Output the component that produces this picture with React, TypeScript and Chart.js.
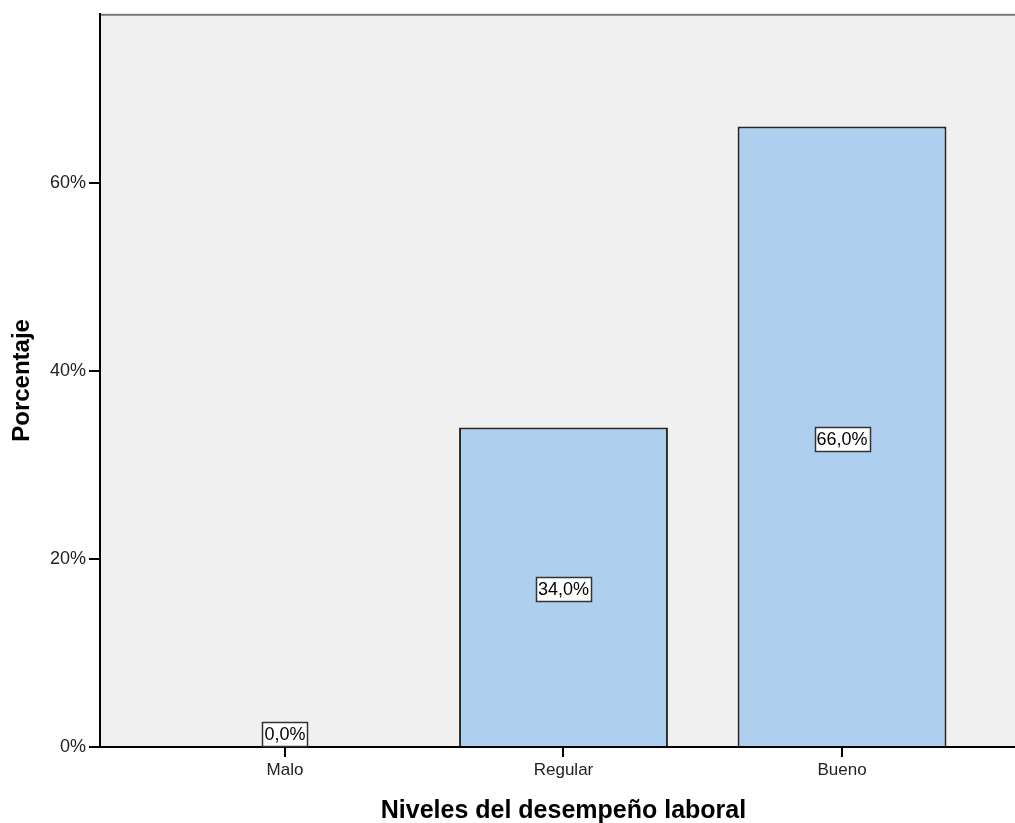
import { useEffect, useRef } from 'react';
import { Chart, registerables } from 'chart.js';

Chart.register(...registerables);

// Data
const categories = ['Malo', 'Regular', 'Bueno'];
const percentages = [0, 34, 66];
const yTickValues = [0, 20, 40, 60];
const xAxisTitle = 'Niveles del desempeño laboral';
const yAxisTitle = 'Porcentaje';

const FONT = "'Liberation Sans', Arial, Helvetica, sans-serif";
const formatPct = (v: number) => v.toFixed(1).replace('.', ',') + '%';

export default function App() {
  const canvasRef = useRef<HTMLCanvasElement>(null);

  useEffect(() => {
    const canvas = canvasRef.current;
    if (!canvas) return;

    // Grey plot panel with a thin top rule
    const panel = {
      id: 'panel',
      beforeDraw(chart: any) {
        const { ctx, chartArea: a } = chart;
        ctx.save();
        ctx.fillStyle = '#f0f0f0';
        ctx.fillRect(a.left, a.top, a.right - a.left, a.bottom - a.top);
        ctx.fillStyle = '#7a7a7a';
        ctx.fillRect(a.left, a.top, a.right - a.left, 2);
        ctx.restore();
      },
    };

    // Boxed value labels in the middle of each bar
    const valueLabels = {
      id: 'valueLabels',
      afterDatasetsDraw(chart: any) {
        const { ctx } = chart;
        const yScale = chart.scales.y;
        const meta = chart.getDatasetMeta(0);
        const axisY = yScale.getPixelForValue(0);
        ctx.save();
        ctx.font = `18px ${FONT}`;
        meta.data.forEach((bar: any, i: number) => {
          const v = percentages[i];
          const text = formatPct(v);
          const tw = ctx.measureText(text).width;
          const w = Math.round(tw + 4);
          const h = 24;
          let cy = yScale.getPixelForValue(v / 2) + 2;
          cy = Math.min(cy, axisY - 1 - h / 2);
          const x0 = Math.round(bar.x - w / 2) + 0.5;
          const y0 = Math.round(cy - h / 2) + 0.5;
          ctx.fillStyle = '#ffffff';
          ctx.fillRect(x0, y0, w, h);
          ctx.strokeStyle = '#333333';
          ctx.lineWidth = 1.5;
          ctx.strokeRect(x0, y0, w, h);
          ctx.fillStyle = '#000000';
          ctx.textAlign = 'center';
          ctx.textBaseline = 'middle';
          ctx.fillText(text, bar.x, y0 + h / 2 + 1);
        });
        ctx.restore();
      },
    };

    // Axis titles
    const axisTitles = {
      id: 'axisTitles',
      afterDraw(chart: any) {
        const { ctx, chartArea: a } = chart;
        const xScale = chart.scales.x;
        ctx.save();
        ctx.fillStyle = '#000000';
        ctx.textAlign = 'center';
        ctx.textBaseline = 'alphabetic';
        ctx.font = `bold 25px ${FONT}`;
        ctx.fillText(xAxisTitle, xScale.getPixelForValue(1), 818);
        ctx.font = `bold 24px ${FONT}`;
        ctx.translate(28.5, (a.top + a.bottom) / 2);
        ctx.rotate(-Math.PI / 2);
        ctx.fillText(yAxisTitle, 0, 0);
        ctx.restore();
      },
    };

    const chart = new Chart(canvas, {
      type: 'bar',
      data: {
        datasets: [
          {
            data: percentages.map((v, i) => ({ x: i, y: v })),
            backgroundColor: '#aed0ee',
            borderColor: '#262626',
            borderWidth: 2,
            categoryPercentage: 1,
            barPercentage: 0.75,
          },
        ],
      },
      options: {
        responsive: false,
        animation: false,
        layout: { padding: { top: 13, left: 0, right: 0, bottom: 0 } },
        plugins: {
          legend: { display: false },
          tooltip: { enabled: false },
        },
        scales: {
          x: {
            type: 'linear',
            min: -0.664,
            max: 2.621,
            bounds: 'data',
            offset: false,
            afterBuildTicks: (s: any) => {
              s.ticks = categories.map((_, i) => ({ value: i }));
            },
            afterFit: (s: any) => {
              s.height = 76;
            },
            grid: {
              offset: false,
              drawOnChartArea: false,
              drawTicks: true,
              tickLength: 10,
              color: '#000',
              lineWidth: 2,
            },
            border: { display: true, color: '#000', width: 2 },
            ticks: {
              callback: (v: any) => categories[v as number] ?? '',
              font: { family: FONT, size: 17 },
              color: '#222',
              padding: 3,
              maxRotation: 0,
              autoSkip: false,
            },
          },
          y: {
            min: 0,
            max: 78,
            afterBuildTicks: (s: any) => {
              s.ticks = yTickValues.map((v) => ({ value: v }));
            },
            afterFit: (s: any) => {
              s.width = 100;
            },
            grid: { drawOnChartArea: false, drawTicks: true, tickLength: 11, color: '#000', lineWidth: 2 },
            border: { display: true, color: '#000', width: 2 },
            ticks: {
              callback: (v: any) => `${v}%`,
              font: { family: FONT, size: 18 },
              color: '#222',
              padding: 3,
            },
          },
        },
      },
      plugins: [panel, valueLabels, axisTitles],
    });

    return () => chart.destroy();
  }, []);

  return (
    <div style={{ position: 'absolute', left: 0, top: 0, width: 1015, height: 823 }}>
      <canvas ref={canvasRef} width={1015} height={823} style={{ display: 'block' }} />
    </div>
  );
}
